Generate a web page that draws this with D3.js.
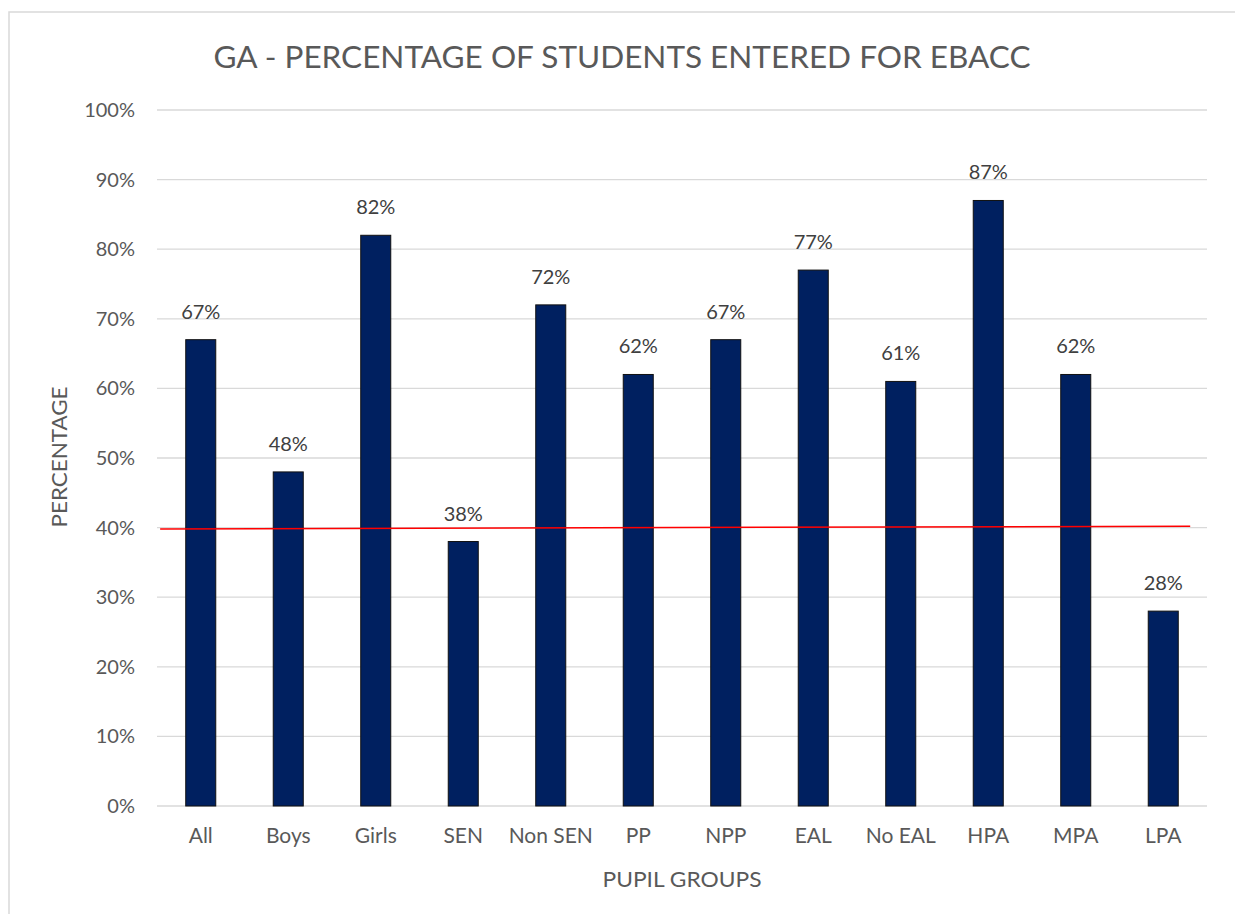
<!DOCTYPE html>
<html><head><meta charset="utf-8">
<script src="https://cdn.jsdelivr.net/npm/d3@7/dist/d3.min.js"></script>
<style>body{margin:0;background:#fff;} text{font-family:Lato,"Open Sans",sans-serif;}</style>
</head><body>
<svg id="chart" width="1235" height="914"></svg>
<script>
const categories = ["All","Boys","Girls","SEN","Non SEN","PP","NPP","EAL","No EAL","HPA","MPA","LPA"];
const values = [67,48,82,38,72,62,67,77,61,87,62,28];
const yTicks = [0,10,20,30,40,50,60,70,80,90,100];
const titleText = "GA - PERCENTAGE OF STUDENTS ENTERED FOR EBACC";
const xTitle = "PUPIL GROUPS";
const yTitle = "PERCENTAGE";
// hand-drawn red reference line: [fraction along plot width, value %]
const refLine = [[0.003,39.8],[0.984,40.2]];

const svg = d3.select("#chart");
const m = {left:157, right:1207, top:110, bottom:806};

// outer border
svg.append("rect").attr("x",9).attr("y",12).attr("width",1240).attr("height",920)
  .attr("fill","#fff").attr("stroke","#d9d9d9").attr("stroke-width",1.5);

const x = d3.scaleBand().domain(categories).range([m.left,m.right]).paddingInner(0.657).paddingOuter(0.3285);
const y = d3.scaleLinear().domain([0,100]).range([m.bottom,m.top]);
const xf = d3.scaleLinear().domain([0,1]).range([m.left,m.right]);

// gridlines
svg.append("g").selectAll("line").data(yTicks).join("line")
  .attr("x1",m.left).attr("x2",m.right)
  .attr("y1",d=>y(d)).attr("y2",d=>y(d))
  .attr("stroke","#d9d9d9").attr("stroke-width",1.3);

// y tick labels
const yAxis = d3.axisLeft(y).tickValues(yTicks).tickFormat(d=>d+"%").tickSize(0).tickPadding(22);
const ga = svg.append("g").attr("transform",`translate(${m.left},0)`).call(yAxis);
ga.select(".domain").remove();
ga.selectAll("text").attr("fill","#595959").style("font-size","20px").style("font-family","Lato,'Open Sans',sans-serif");

// bars
svg.append("g").selectAll("rect").data(values).join("rect")
  .attr("x",(d,i)=>x(categories[i])).attr("width",x.bandwidth())
  .attr("y",d=>y(d)).attr("height",d=>y(0)-y(d))
  .attr("fill","#002060").attr("stroke","#111").attr("stroke-width",1);

// data labels
svg.append("g").selectAll("text").data(values).join("text")
  .attr("x",(d,i)=>x(categories[i])+x.bandwidth()/2).attr("y",d=>y(d)-21)
  .attr("text-anchor","middle").attr("fill","#404040").style("font-size","20px")
  .text(d=>d+"%");

// x tick labels
const xAxis = d3.axisBottom(x).tickSize(0).tickPadding(22);
const gx = svg.append("g").attr("transform",`translate(0,${m.bottom})`).call(xAxis);
gx.select(".domain").remove();
gx.selectAll("text").attr("fill","#595959").style("font-size","21px").style("font-family","Lato,'Open Sans',sans-serif");

// red reference line
svg.append("path").datum(refLine)
  .attr("d",d3.line().x(d=>xf(d[0])).y(d=>y(d[1])))
  .attr("stroke","#ff0000").attr("stroke-width",1.5).attr("fill","none");

// titles
svg.append("text").attr("x",(m.left+m.right)/2-60).attr("y",68).attr("text-anchor","middle")
  .attr("fill","#595959").style("font-size","31px").attr("textLength",817).attr("lengthAdjust","spacingAndGlyphs")
  .text(titleText);
svg.append("text").attr("x",(m.left+m.right)/2).attr("y",887).attr("text-anchor","middle")
  .attr("fill","#595959").style("font-size","21px").attr("textLength",159).attr("lengthAdjust","spacingAndGlyphs").text(xTitle);
svg.append("text").attr("transform",`translate(67,457) rotate(-90)`).attr("text-anchor","middle")
  .attr("fill","#595959").style("font-size","21px").attr("textLength",141).attr("lengthAdjust","spacingAndGlyphs").text(yTitle);
</script>
</body></html>
